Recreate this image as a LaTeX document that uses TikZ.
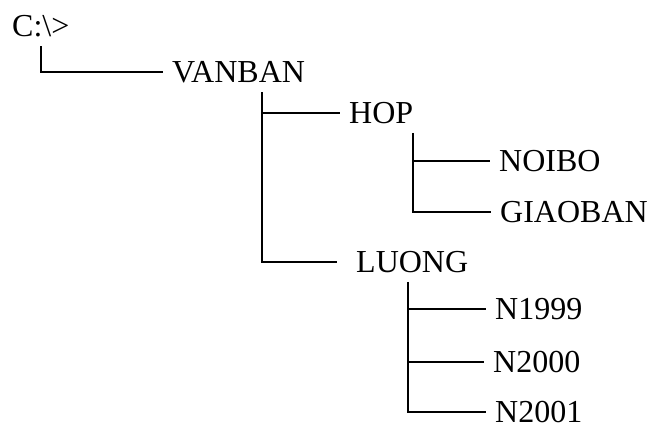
\documentclass[tikz,border=0pt]{standalone}
\usepackage{fontspec}
\setmainfont{Liberation Serif}
\usepackage{tikz}
\usetikzlibrary{calc}

\begin{document}
\begin{tikzpicture}[x=1pt, y=-1pt, folder/.style={anchor=west, inner sep=9pt, font=\fontsize{32}{38}\selectfont}, branch/.style={line width=1.6pt}]
			\useasboundingbox (0,0) rectangle (651,428);
			\node[folder] (root) at (3,26) {C:\textbackslash>};
			\node[folder] (vanban) at (163,72) {VANBAN};
			\node[folder] (hop) at (340,113) {HOP};
			\node[folder] (noibo) at (490,161) {NOIBO};
			\node[folder] (giaoban) at (491,212) {GIAOBAN};
			\node[folder] (luong) at (347,262) {LUONG};
			\node[folder] (n1999) at (486,309) {N1999};
			\node[folder] (n2000) at (484,362) {N2000};
			\node[folder] (n2001) at (486,412) {N2001};

			\coordinate (vanban-t) at (262,0 |- vanban.south);
			\coordinate (hop-t) at (413,0 |- hop.south);
			\coordinate (luong-t) at (408,0 |- luong.south);

			\draw[branch] (root.south) |- (vanban.west);
			\draw[branch] (vanban-t) |- ([xshift=-10pt]luong.west);
			\draw[branch] (vanban-t |- hop.west) -- (hop.west);
			\draw[branch] (hop-t) |- (giaoban.west);
			\draw[branch] (hop-t |- noibo.west) -- (noibo.west);
			\draw[branch] (luong-t) |- (n2001.west);
			\draw[branch] (luong-t |- n1999.west) -- (n1999.west);
			\draw[branch] (luong-t |- n2000.west) -- (n2000.west);
		\end{tikzpicture}
\end{document}
